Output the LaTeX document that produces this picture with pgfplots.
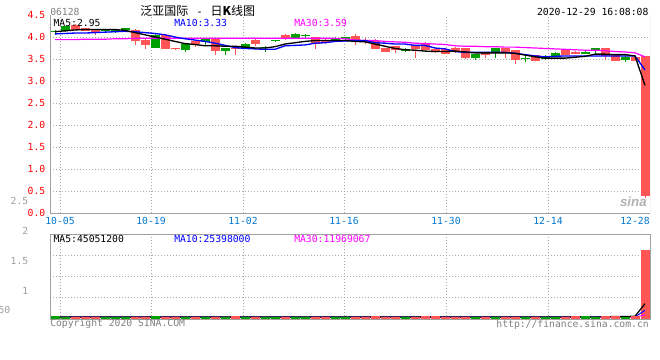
\documentclass[border=0pt]{standalone}
\usepackage{pgfplots}
\pgfplotsset{compat=1.18}
\usepackage{pgfplotstable}
\usepackage{fontspec}
\setmainfont{DejaVu Sans Mono}
\newfontfamily\mono{DejaVu Sans Mono}
\newfontfamily\cjk{Noto Sans CJK SC}
\newfontfamily\lsans{Liberation Sans}
\newcommand\ft{\fontsize{7.3pt}{8pt}\selectfont}
\definecolor{cred}{RGB}{255,85,85}
\definecolor{cgreen}{RGB}{0,160,0}
\definecolor{axgray}{RGB}{160,160,160}
\definecolor{gridgray}{RGB}{170,170,170}
\definecolor{dateblue}{RGB}{0,120,210}
\definecolor{txtgray}{RGB}{128,128,128}
\definecolor{mablue}{RGB}{0,0,255}
\definecolor{mamag}{RGB}{255,0,255}

% red = falling day (open above close), green = rising day
\pgfplotstableread{
i O H L C
2 4.28 4.30 4.16 4.17
3 4.20 4.21 4.13 4.14
4 4.18 4.19 4.05 4.11
8 4.17 4.18 3.81 3.90
9 3.94 3.95 3.73 3.81
11 4.05 4.06 3.72 3.73
12 3.74 3.76 3.70 3.72
14 3.90 3.91 3.78 3.83
16 3.96 3.97 3.60 3.69
18 3.76 3.77 3.60 3.74
20 3.94 3.95 3.80 3.83
23 4.05 4.06 3.94 3.95
26 4.00 4.01 3.73 3.83
27 3.94 3.95 3.84 3.88
30 4.02 4.06 3.81 3.93
31 3.94 3.97 3.83 3.92
32 3.92 3.95 3.72 3.73
33 3.75 3.76 3.65 3.66
34 3.79 3.80 3.64 3.70
36 3.81 3.82 3.52 3.73
37 3.86 3.89 3.70 3.71
38 3.73 3.74 3.64 3.69
39 3.73 3.74 3.61 3.62
40 3.75 3.77 3.64 3.66
41 3.75 3.76 3.50 3.52
43 3.65 3.66 3.52 3.60
45 3.75 3.76 3.52 3.67
46 3.70 3.71 3.39 3.48
48 3.58 3.59 3.45 3.46
51 3.71 3.72 3.59 3.60
52 3.67 3.68 3.61 3.62
55 3.75 3.76 3.47 3.56
56 3.60 3.61 3.45 3.46
58 3.55 3.56 3.45 3.46
59 3.56 3.57 0.33 0.39
}\redtab

\pgfplotstableread{
i O H L C
0 4.12 4.17 4.05 4.14
1 4.13 4.26 4.12 4.24
5 4.13 4.17 4.12 4.15
6 4.11 4.18 4.10 4.17
7 4.16 4.21 4.15 4.20
10 3.75 4.07 3.74 4.05
13 3.71 3.85 3.67 3.84
15 3.89 3.98 3.82 3.96
17 3.69 3.76 3.59 3.75
19 3.73 3.86 3.72 3.84
21 3.76 3.80 3.67 3.78
22 3.91 3.94 3.89 3.93
24 3.98 4.08 3.97 4.07
25 4.02 4.06 3.96 4.05
28 3.94 4.00 3.92 3.98
29 3.95 4.01 3.94 4.00
35 3.69 3.74 3.66 3.73
42 3.52 3.62 3.48 3.61
44 3.63 3.76 3.52 3.75
47 3.49 3.56 3.44 3.52
49 3.49 3.58 3.48 3.54
50 3.57 3.65 3.56 3.64
53 3.62 3.68 3.61 3.67
54 3.70 3.76 3.62 3.75
57 3.47 3.56 3.44 3.55
}\greentab

\pgfplotstableread{
i m5 m10 m30
0 4.12 4.07 3.94
1 4.14 4.08 3.94
2 4.16 4.09 3.94
3 4.17 4.09 3.95
4 4.17 4.10 3.95
5 4.17 4.11 3.95
6 4.17 4.12 3.96
7 4.15 4.13 3.96
8 4.10 4.12 3.97
9 4.05 4.10 3.97
10 4.00 4.08 3.97
11 3.95 4.05 3.97
12 3.90 4.00 3.97
13 3.85 3.96 3.97
14 3.83 3.93 3.97
15 3.80 3.90 3.97
16 3.80 3.86 3.97
17 3.79 3.81 3.97
18 3.79 3.76 3.97
19 3.77 3.74 3.97
20 3.75 3.73 3.97
21 3.75 3.72 3.97
22 3.78 3.72 3.97
23 3.84 3.80 3.97
24 3.87 3.81 3.97
25 3.90 3.82 3.97
26 3.92 3.86 3.97
27 3.92 3.87 3.97
28 3.92 3.90 3.97
29 3.92 3.91 3.96
30 3.90 3.92 3.93
31 3.89 3.92 3.92
32 3.84 3.87 3.92
33 3.79 3.86 3.90
34 3.74 3.84 3.89
35 3.71 3.84 3.88
36 3.70 3.81 3.86
37 3.68 3.81 3.85
38 3.67 3.75 3.84
39 3.67 3.73 3.83
40 3.68 3.67 3.80
41 3.66 3.65 3.79
42 3.64 3.65 3.79
43 3.64 3.65 3.78
44 3.64 3.65 3.78
45 3.64 3.65 3.77
46 3.63 3.63 3.77
47 3.59 3.60 3.76
48 3.55 3.57 3.75
49 3.52 3.55 3.74
50 3.52 3.56 3.73
51 3.52 3.57 3.72
52 3.54 3.57 3.71
53 3.56 3.57 3.70
54 3.61 3.57 3.70
55 3.61 3.57 3.69
56 3.60 3.57 3.67
57 3.60 3.57 3.66
58 3.57 3.57 3.64
59 2.90 3.25 3.55
}\matab

% volume in millions of shares
\pgfplotstableread{
i V
2 5
3 5
4 5
8 5
9 5
11 5
12 5
14 5
16 5
18 9
20 5
23 5
26 5
27 5
30 5
31 5
32 9
33 5
34 5
36 5
37 9
38 9
39 5
40 5
41 5
43 5
45 5
46 5
48 5
51 5
52 9
55 9
56 9
58 9
}\redvol

\pgfplotstableread{
i V
0 9
1 5
5 5
6 5
7 5
10 9
13 5
15 5
17 5
19 5
21 5
22 5
24 5
25 5
28 5
29 5
35 5
42 5
44 5
47 5
49 5
50 5
53 9
54 5
57 5
}\greenvol

\pgfplotstableread{
i v5 v10 v30
0 5.8 5.7 5.5
10 5.8 5.7 5.5
20 5.9 5.7 5.5
30 5.8 5.8 5.5
40 5.9 5.8 5.6
50 5.8 5.8 5.6
54 5.9 5.8 5.6
55 6.6 6.2 5.7
56 7.4 6.6 5.8
57 7.4 6.6 5.8
58 8.2 6.8 5.9
59 45.05 25.40 11.97
}\volma

\pgfplotsset{
  wick/.style={draw=none, mark=none, forget plot, error bars/.cd, y dir=plus, y explicit, error mark=none,
    error bar style={line width=0.75pt, draw=#1, solid}},
  body/.style={draw=none, mark=none, forget plot, error bars/.cd, y dir=plus, y explicit, error mark=none,
    error bar style={line width=6.75pt, draw=#1, solid}},
}

\begin{document}
\begin{tikzpicture}
\fill[white] (0pt,0pt) rectangle (495pt,-270pt);
\path[use as bounding box] (0pt,0pt) rectangle (495pt,-270pt);

% ---------------- price panel ----------------
\begin{axis}[
  at={(37.5pt,-159.75pt)}, anchor=south west,
  scale only axis, width=450pt, height=148.5pt,
  xmin=0, xmax=60, ymin=0, ymax=4.5,
  axis x line*=bottom, axis y line*=left,
  axis line style={draw=axgray, line width=0.75pt, -},
  major tick length=0pt,
  tick label style={font=\mono\ft},
  xtick={1,10.1,19.3,29.4,39.6,49.8},
  xticklabels={10-05,10-19,11-02,11-16,11-30,12-14},
  extra x ticks={58.5}, extra x tick labels={12-28},
  extra x tick style={grid=none},
  xticklabel style={text=dateblue},
  ytick={0,0.5,1,1.5,2,2.5,3,3.5,4},
  extra y ticks={4.5}, extra y tick style={grid=none},
  yticklabel style={text=red, /pgf/number format/.cd, fixed, fixed zerofill, precision=1, assume math mode=true},
  grid=major,
  major grid style={draw=gridgray, line width=0.75pt, dash pattern=on 0.75pt off 1.5pt},
]
\addplot[wick=cred] table[x expr=\thisrow{i}+0.5, y=L, y error plus expr=\thisrow{H}-\thisrow{L}] \redtab;
\addplot[body=cred] table[x expr=\thisrow{i}+0.5, y=C, y error plus expr=\thisrow{O}-\thisrow{C}] \redtab;
\addplot[wick=cgreen] table[x expr=\thisrow{i}+0.5, y=L, y error plus expr=\thisrow{H}-\thisrow{L}] \greentab;
\addplot[body=cgreen] table[x expr=\thisrow{i}+0.5, y=O, y error plus expr=\thisrow{C}-\thisrow{O}] \greentab;
\addplot[mamag, line width=0.9pt, mark=none] table[x expr=\thisrow{i}+0.5, y=m30] \matab;
\addplot[mablue, line width=1pt, mark=none] table[x expr=\thisrow{i}+0.5, y=m10] \matab;
\addplot[black, line width=1pt, mark=none] table[x expr=\thisrow{i}+0.5, y=m5] \matab;
\draw[axgray, line width=0.75pt] (rel axis cs:1,0) -- (rel axis cs:1,1);
\end{axis}

% ---------------- volume panel ----------------
\begin{axis}[
  at={(37.5pt,-239.25pt)}, anchor=south west,
  scale only axis, width=450pt, height=63.75pt,
  xmin=0, xmax=60, ymin=0, ymax=250,
  axis line style={draw=axgray, line width=0.75pt},
  major tick length=0pt,
  xtick={1,10.1,19.3,29.4,39.6,49.8}, xticklabels={},
  ytick={62.5,125,187.5}, yticklabels={},
  grid=major,
  major grid style={draw=gridgray, line width=0.75pt, dash pattern=on 0.75pt off 1.5pt},
]
\addplot[ycomb, cred, line width=6.75pt, mark=none] coordinates {(59.5,203)};
\addplot[mamag, line width=0.75pt, mark=none] table[x expr=\thisrow{i}+0.5, y=v30] \volma;
\addplot[mablue, line width=0.75pt, mark=none] table[x expr=\thisrow{i}+0.5, y=v10] \volma;
\addplot[black, line width=0.9pt, mark=none] table[x expr=\thisrow{i}+0.5, y=v5] \volma;
\addplot[ycomb, cred, line width=6.75pt, mark=none] table[x expr=\thisrow{i}+0.5, y=V] \redvol;
\addplot[ycomb, cgreen, line width=6.75pt, mark=none] table[x expr=\thisrow{i}+0.5, y=V] \greenvol;
\end{axis}

% ---------------- texts ----------------
\begin{scope}[every node/.style={inner sep=0pt, font=\mono\ft}]
\node[anchor=west, text=txtgray] at (37.5pt,-8.6pt) {06128};
\node[anchor=west] at (105pt,-8.3pt) {\cjk\fontsize{9pt}{10pt}\selectfont 泛亚国际\kern6pt{\mono\fontsize{8pt}{9pt}\selectfont -}\kern6pt 日{\bfseries K}线图};
\node[anchor=east] at (486.5pt,-9pt) {2020-12-29 16:08:08};
\node[anchor=west] at (40pt,-17.2pt) {MA5:2.95};
\node[anchor=west, text=mablue] at (130.5pt,-17.2pt) {MA10:3.33};
\node[anchor=west, text=mamag] at (220.5pt,-17.2pt) {MA30:3.59};
\node[anchor=west] at (40pt,-178.9pt) {MA5:45051200};
\node[anchor=west, text=mablue] at (130.5pt,-178.9pt) {MA10:25398000};
\node[anchor=west, text=mamag] at (220.5pt,-178.9pt) {MA30:11969067};
\node[anchor=east, text=axgray] at (21.4pt,-150.8pt) {2.5};
\node[anchor=east, text=axgray] at (21.4pt,-173.3pt) {2};
\node[anchor=east, text=axgray] at (21.4pt,-195.8pt) {1.5};
\node[anchor=east, text=axgray] at (21.4pt,-218.3pt) {1};
\node[anchor=east, text=axgray] at (7.9pt,-232.5pt) {50};
\node[anchor=west, text=txtgray] at (37.5pt,-243pt) {Copyright 2020 SINA.COM};
\node[anchor=east, text=txtgray] at (486.8pt,-243.8pt) {http://finance.sina.com.cn};
\node[anchor=center, text=black!30, font=\lsans\bfseries\itshape\fontsize{10pt}{11pt}\selectfont] at (475pt,-151pt) {sina};
\end{scope}
\end{tikzpicture}
\end{document}
